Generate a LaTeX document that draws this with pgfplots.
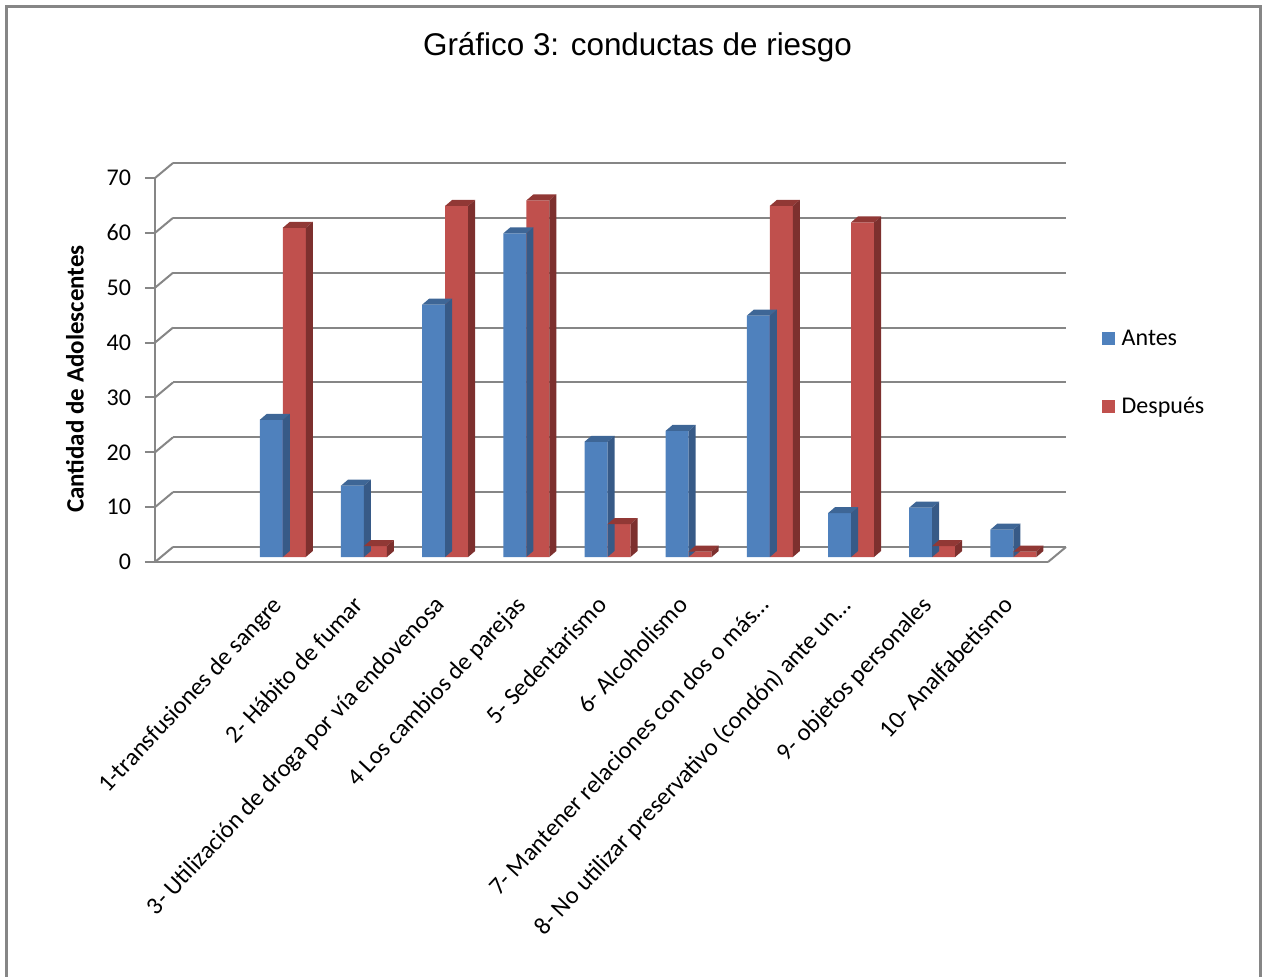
\documentclass[border=0pt]{standalone}
\usepackage{fontspec}
\setmainfont{Carlito}
\newfontfamily\titlefont{Liberation Sans}
\usepackage{pgfplots}
\usepackage{pgfplotstable}
\pgfplotsset{compat=1.18}

\definecolor{antes}{RGB}{79,129,189}
\definecolor{antesside}{RGB}{55,90,135}
\definecolor{antestop}{RGB}{62,102,150}
\definecolor{despues}{RGB}{192,80,77}
\definecolor{despuesside}{RGB}{125,48,46}
\definecolor{despuestop}{RGB}{145,56,53}
\definecolor{gridgray}{RGB}{134,134,134}

% conductas de riesgo, antes y despues
\pgfplotstableread{
cat antes despues
1   25    60
2   13    2
3   46    64
4   59    65
5   21    6
6   23    1
7   44    64
8   8     61
9   9     2
10  5     1
}\datos

% 192pt / 70 = 2.742857pt per unit
\pgfplotsset{
  pared/.style={width=446.5pt, height=192pt, scale only axis,
    xmin=-0.5, xmax=10.5, ymin=0, ymax=70, anchor=south west},
  caras/.style={only marks, scatter, mark=*, mark size=0pt,
    mark options={draw=none, fill=none}, forget plot,
    visualization depends on={rawy \as \ry},
    scatter/@post marker code/.code={}},
  caras izq/.style={caras,
    scatter/@pre marker code/.code={
      \path[draw=none, fill=antestop] (-11.5pt,0pt) -- (0pt,0pt) -- (3.5pt,3pt) -- (-8pt,3pt) -- cycle;
      \path[draw=none, fill=antesside] (0pt,0pt) -- (3.5pt,3pt) -- (3.5pt,3pt-\ry*2.742857pt) -- (0pt,-\ry*2.742857pt) -- cycle;
    }},
  caras der/.style={caras,
    scatter/@pre marker code/.code={
      \path[draw=none, fill=despuestop] (0pt,0pt) -- (11.5pt,0pt) -- (15pt,3pt) -- (3.5pt,3pt) -- cycle;
      \path[draw=none, fill=despuesside] (11.5pt,0pt) -- (15pt,3pt) -- (15pt,3pt-\ry*2.742857pt) -- (11.5pt,-\ry*2.742857pt) -- cycle;
    }},
}

\begin{document}
\begin{tikzpicture}

% pared del fondo
\begin{axis}[pared, at={(9pt,7.5pt)},
  axis line style={draw=none}, tick style={draw=none},
  xtick=\empty, ytick={0,10,...,70}, yticklabels={},
  ymajorgrids, grid style={gridgray, line width=1pt}]
\end{axis}

% eje frontal
\begin{axis}[pared, at={(0pt,0pt)}, clip=false,
  axis lines*=left, axis line style={gridgray, line width=1pt},
  ytick={0,10,...,70}, tick align=outside, major tick length=5pt,
  ytick style={gridgray, line width=1pt},
  xtick={1,...,10}, xtick style={draw=none},
  xticklabels={{1-transfusiones de sangre},{2- Hábito de fumar},
    {3- Utilización de droga por vía endovenosa},{4 Los cambios de parejas},
    {5- Sedentarismo},{6- Alcoholismo},{7- Mantener relaciones con dos o más…},
    {8- No utilizar preservativo (condón) ante un…},{9- objetos personales},
    {10- Analfabetismo}},
  tick label style={font=\fontsize{12}{14}\selectfont},
  /pgf/number format/assume math mode=true,
  yticklabel style={xshift=-3.5pt},
  xticklabel style={xshift=-3pt, yshift=-11pt, rotate=47, anchor=north east,
    inner sep=0pt, font=\fontsize{12.3}{14}\selectfont},
  ylabel={Cantidad de Adolescentes},
  every axis y label/.style={at={(axis description cs:-0.0896,0.4766)},
    rotate=90, anchor=center, font=\bfseries\fontsize{12.5}{14}\selectfont}]
\pgfplotsinvokeforeach{0,10,...,70}{
  \draw[gridgray, line width=1pt] (axis cs:-0.5,#1) -- ++(9pt,7.5pt);
}
\draw[gridgray, line width=1pt] (axis cs:10.5,0) -- ++(9pt,7.5pt);
\end{axis}

% barras
\begin{axis}[pared, at={(3pt,2.5pt)}, clip=false, hide axis,
  legend cell align=left,
  legend image code/.code={\fill[#1] (0pt,-3.25pt) rectangle (6.5pt,3.25pt);},
  legend style={draw=none, fill=none, at={(axis description cs:1.053,0.479)},
    anchor=west, inner sep=0pt, row sep=20.5pt,
    /tikz/every odd column/.append style={column sep=1.5pt},
    font=\fontsize{12}{14}\selectfont}]
\addplot[caras izq] table[x=cat, y=antes]{\datos};
\addplot[ybar, bar width=11.5pt, bar shift=-5.75pt, fill=antes, draw=none]
  table[x=cat, y=antes]{\datos};
\addlegendentry{Antes}
\addplot[caras der] table[x=cat, y=despues]{\datos};
\addplot[ybar, bar width=11.5pt, bar shift=5.75pt, fill=despues, draw=none]
  table[x=cat, y=despues]{\datos};
\addlegendentry{Después}
\end{axis}

\node[font=\titlefont\fontsize{15.7}{18}\selectfont, anchor=base]
  at (241.25pt,253pt) {Gráfico 3: conductas de riesgo};

\draw[gridgray, line width=1.2pt] (-74.25pt,-230pt) rectangle (552.75pt,277.75pt);
\pgfresetboundingbox
\path[use as bounding box] (-77.5pt,-207pt) rectangle (556.5pt,281pt);
\end{tikzpicture}
\end{document}
